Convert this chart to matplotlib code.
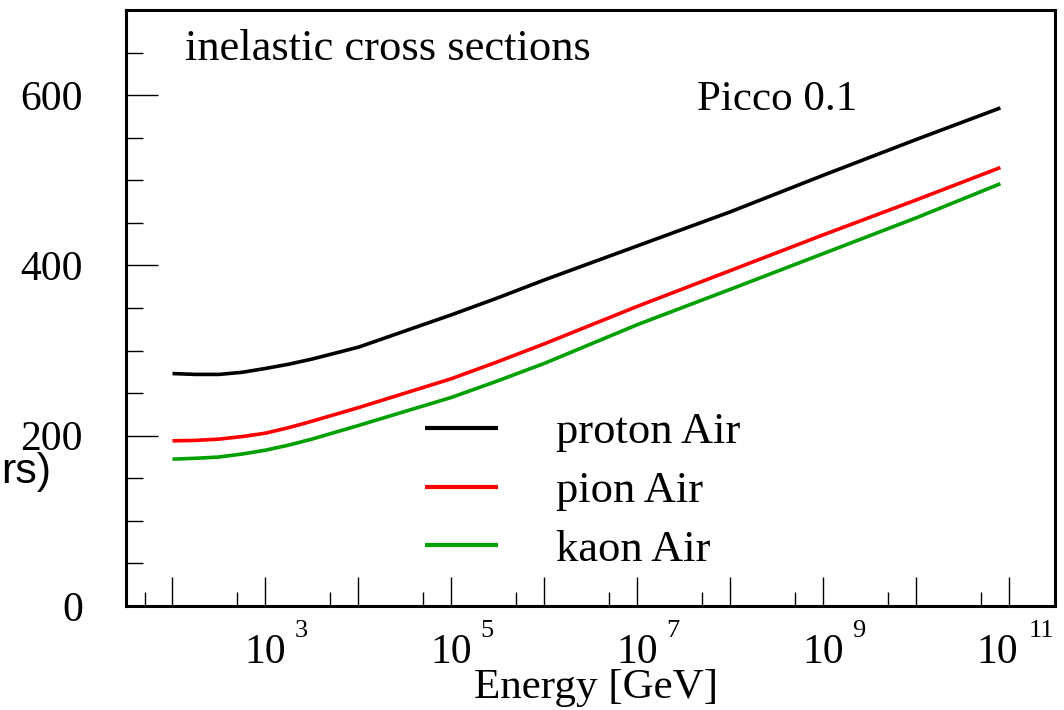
import matplotlib
matplotlib.use("Agg")
import matplotlib.pyplot as plt
from matplotlib.ticker import FixedLocator, NullFormatter
from matplotlib.transforms import ScaledTranslation

# inelastic cross sections vs energy
energy_gev = [1e2, 1.78e2, 3.16e2, 5.62e2, 1e3, 1.78e3, 3.16e3, 5.62e3, 1e4, 3.16e4,
              1e5, 3.16e5, 1e6, 1e7, 1e8, 1e9, 1e10, 8e10]
proton_air = [273, 272, 272, 274.5, 279, 284, 290, 297, 304, 323,
              342, 362, 383, 423, 463, 506, 548, 585]
pion_air = [194, 194.5, 196, 199, 203, 209.5, 217, 225, 233, 250,
            267, 287, 308, 352, 394, 436, 477, 515]
kaon_air = [172.5, 173.5, 175, 178.5, 183, 189, 196, 204, 212, 228.5,
            245, 264.5, 285, 330.5, 372, 414, 456, 496]

series_labels = ["proton Air", "pion Air", "kaon Air"]
series_colors = ["black", "#ff0000", "#00a000"]

x_major = [1e2, 1e3, 1e4, 1e5, 1e6, 1e7, 1e8, 1e9, 1e10, 1e11]
x_minor = [5e1, 5e2, 5e3, 5e4, 5e5, 5e6, 5e7, 5e8, 5e9, 5e10]
x_label_exp = {1e3: "3", 1e5: "5", 1e7: "7", 1e9: "9", 1e11: "11"}
y_major = [0, 200, 400, 600]
y_minor = [50, 100, 150, 250, 300, 350, 450, 500, 550, 650]

SERIF = "Liberation Serif"

fig = plt.figure(figsize=(10.64, 7.10), dpi=100)
ax = fig.add_axes([126 / 1064, 1 - 606 / 710, 929 / 1064, 596 / 710])

for y, lab, col in zip([proton_air, pion_air, kaon_air], series_labels, series_colors):
    ax.plot(energy_gev, y, color=col, lw=2.6, label=lab, solid_capstyle="butt")

ax.set_xscale("log")
ax.set_xlim(10 ** 1.5, 10 ** 11.49)
ax.set_ylim(0, 700)

for s in ax.spines.values():
    s.set_linewidth(2.2)

ax.xaxis.set_major_locator(FixedLocator(x_major))
ax.xaxis.set_minor_locator(FixedLocator(x_minor))
ax.xaxis.set_minor_formatter(NullFormatter())
ax.set_xticklabels(["10" if v in x_label_exp else "" for v in x_major])
ax.yaxis.set_major_locator(FixedLocator(y_major))
ax.yaxis.set_minor_locator(FixedLocator(y_minor))
ax.set_yticklabels([str(v) for v in y_major])

ax.tick_params(axis="x", which="major", direction="in", length=21, width=1.0,
               pad=20, labelsize=30, top=False)
ax.tick_params(axis="x", which="minor", direction="in", length=10, width=1.0, top=False)
ax.tick_params(axis="y", which="major", direction="in", length=23, width=1.0,
               pad=31, labelsize=30, right=False)
ax.tick_params(axis="y", which="minor", direction="in", length=12, width=1.0, right=False)
for lab in ax.get_xticklabels() + ax.get_yticklabels():
    lab.set_fontfamily(SERIF)

# last decade label sits a bit left, like the original
last = ax.get_xticklabels()[-1]
last.set_transform(last.get_transform() + ScaledTranslation(-0.12, 0, fig.dpi_scale_trans))

# exponents of the 10^n labels
for v, e in x_label_exp.items():
    dx = 29 if v != 1e11 else 19
    ax.annotate(e, xy=(v, 0), xycoords=("data", "axes fraction"),
                xytext=(dx * 0.72, -31 * 0.72), textcoords="offset points",
                ha="left", va="baseline", fontsize=19, family=SERIF,
                annotation_clip=False)

ax.text((185 - 126) / 929, (606 - 60) / 596, "inelastic cross sections",
        transform=ax.transAxes, ha="left", va="baseline", fontsize=32, family=SERIF)
ax.text((697 - 126) / 929, (606 - 110) / 596, "Picco 0.1",
        transform=ax.transAxes, ha="left", va="baseline", fontsize=31, family=SERIF)

ax.set_xlabel("Energy [GeV]", fontsize=31, family=SERIF, va="baseline")
ax.xaxis.set_label_coords((596.5 - 126) / 929, (606 - 698) / 596)

# leftover of the y title at the canvas edge
fig.text(1 / 1064, 1 - 483 / 710, "rs)", ha="left", va="baseline", fontsize=31,
         family="Liberation Sans")

leg = ax.legend(loc="center left", bbox_to_anchor=(425 / 1064, 1 - 491 / 710),
                bbox_transform=fig.transFigure, frameon=False,
                prop={"family": SERIF, "size": 32}, handlelength=1.65,
                handletextpad=1.3, labelspacing=0.42, borderpad=0, borderaxespad=0)
for h in leg.get_lines():
    h.set_linewidth(3)

fig.savefig("out.png", dpi=100)
